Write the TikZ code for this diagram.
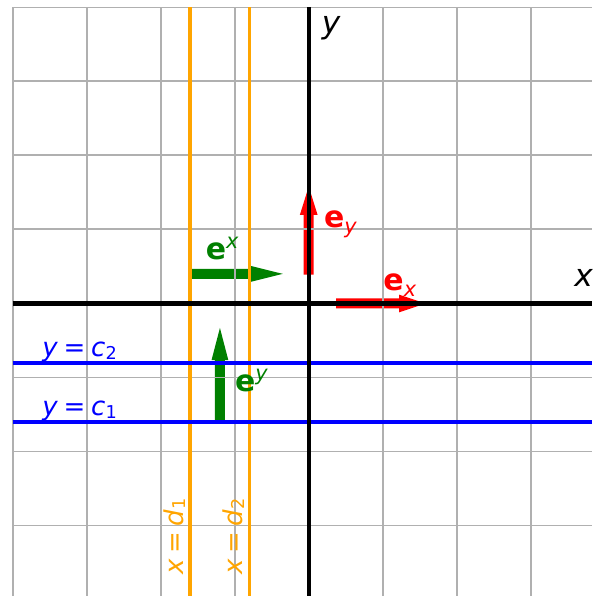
\documentclass[tikz,border=0pt]{standalone}
\usepackage{fontspec}
\setmainfont{DejaVu Sans}
\definecolor{gridgray}{HTML}{B0B0B0}
\definecolor{orng}{HTML}{FFA500}
\definecolor{grn}{HTML}{008000}
\definecolor{rd}{HTML}{FF0000}
\definecolor{bl}{HTML}{0000FF}
\newcommand{\mysup}[1]{\raisebox{0.36em}{\fontsize{8}{9}\selectfont\itshape #1}}
\newcommand{\mysub}[2]{\raisebox{-#2}{\fontsize{8}{9}\selectfont #1}}
\newcommand{\mysubn}[1]{\raisebox{-0.1em}{\fontsize{6.8}{8}\selectfont #1}}
\newcommand{\eqsp}{\hspace{0.22em}=\hspace{0.22em}}
\tikzset{
  gridline/.style={draw=gridgray, line width=0.75pt},
  axisline/.style={draw=black, line width=1.7pt},
  dline/.style={draw=orng, line width=1.5pt},
  cline/.style={draw=bl, line width=1.5pt},
  lab/.style={inner sep=0pt, outer sep=0pt, anchor=base west, font=\fontsize{10}{12}\selectfont},
  elab/.style={lab, font=\fontsize{11.5}{13}\selectfont},
  alab/.style={lab, font=\fontsize{12}{14}\selectfont\itshape},
}
\begin{document}
\begin{tikzpicture}[x=1cm,y=1cm]
\useasboundingbox (-4.172,-3.953) rectangle (3.828,4.101);
\fill[white] (-4.172,-3.953) rectangle (3.828,4.101);
% fat arrows (below everything)
\fill[grn] (-1.6,0.3324) -- (-0.784,0.3324) -- (-0.784,0.292) -- (-0.351,0.4) -- (-0.784,0.508) -- (-0.784,0.4676) -- (-1.6,0.4676) -- cycle;
\fill[grn] (-1.2676,-1.6) -- (-1.1324,-1.6) -- (-1.1324,-0.764) -- (-1.087,-0.764) -- (-1.2,-0.331) -- (-1.313,-0.764) -- (-1.2676,-0.764) -- cycle;
\fill[rd] (-0.0676,0.39) -- (0.0676,0.39) -- (0.0676,1.196) -- (0.12,1.196) -- (0,1.58) -- (-0.12,1.196) -- (-0.0676,1.196) -- cycle;
\fill[rd] (0.37,-0.0676) -- (1.22,-0.0676) -- (1.22,-0.12) -- (1.58,0) -- (1.22,0.12) -- (1.22,0.0676) -- (0.37,0.0676) -- cycle;
% grid
\draw[gridline] (-4,-3.953) grid (3.828,4);
% level lines
\coordinate (d1t) at (-1.6,4); \coordinate (d1b) at (-1.6,-3.953);
\coordinate (d2t) at (-0.8,4); \coordinate (d2b) at (-0.8,-3.953);
\coordinate (c1l) at (-4,-1.6); \coordinate (c1r) at (3.828,-1.6);
\coordinate (c2l) at (-4,-0.8); \coordinate (c2r) at (3.828,-0.8);
\draw[dline] (d1t) -- (d1b);
\draw[dline] (d2t) -- (d2b);
\draw[cline] (c1l) -- (c1r);
\draw[cline] (c2l) -- (c2r);
% axes
\coordinate (xl) at (-4,0); \coordinate (xr) at (3.828,0);
\coordinate (yt) at (0,4); \coordinate (yb) at (0,-3.953);
\draw[axisline] (xl) -- (xr);
\draw[axisline] (yt) -- (yb);
% labels
\node[alab] (ylab) at (0.176,3.65) {y};
\node[alab] (xlab) at (3.59,0.227) {x};
\node[elab, text=grn] (eX) at (-1.39,0.597) {\textbf{e}\mysup{x}};
\node[elab, text=grn] (eY) at (-0.995,-1.19) {\textbf{e}\mysup{y}};
\node[elab, text=rd] (ey) at (0.207,1.03) {\textbf{e}\mysub{\itshape y}{0.2em}};
\node[elab, text=rd] (ex) at (1.01,0.18) {\textbf{e}\mysub{\itshape x}{0.2em}};
\node[lab, text=bl] (c2) at (-3.60,-0.72) {\textit{y}\eqsp\textit{c}\mysubn{2}};
\node[lab, text=bl] (c1) at (-3.60,-1.52) {\textit{y}\eqsp\textit{c}\mysubn{1}};
\node[lab, text=orng, rotate=90] (d1) at (-1.695,-3.669) {\textit{x}\eqsp\textit{d}\mysubn{1}};
\node[lab, text=orng, rotate=90] (d2) at (-0.9,-3.669) {\textit{x}\eqsp\textit{d}\mysubn{2}};
\end{tikzpicture}
\end{document}
